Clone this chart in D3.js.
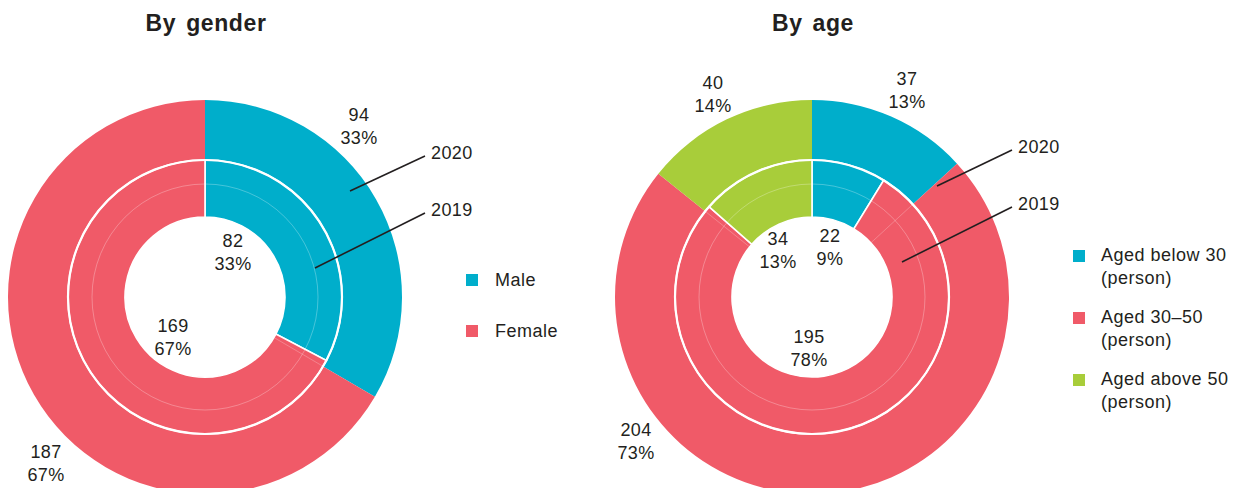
<!DOCTYPE html>
<html>
<head>
<meta charset="utf-8">
<script src="https://cdn.jsdelivr.net/npm/d3@7"></script>
<style>
  body { margin: 0; background: #fff; }
  svg text { font-family: "Liberation Sans", Arial, sans-serif; fill: #231f20; }
</style>
</head>
<body>
<svg width="1245" height="488"></svg>
<script>
// data
var genderCats = ['Male', 'Female'];
var gender2020 = [94, 187];
var gender2019 = [82, 169];

var ageCats = ['Aged below 30', 'Aged 30\u201350', 'Aged above 50'];
var age2020 = [37, 204, 40];
var age2019 = [22, 195, 34];

var colors = ['#00aecb', '#f05a68', '#a8cd3a'];

// label spots for each slice
var genderOuterLabelPos = [[359, 121], [46, 458]];
var genderInnerLabelPos = [[233, 247], [173, 332]];
var ageOuterLabelPos = [[907, 85], [636, 436], [713, 89]];
var ageInnerLabelPos = [[830, 242], [809, 343], [778, 245]];

var svg = d3.select('svg');

var rOuter = 197, rMid = 137, rFaint = 113, rHole = 80;

var pie = d3.pie().sort(null).value(function(d){ return d; });

// percentages that add up to 100 (largest remainder)
function pcts(arr){
    var total = d3.sum(arr);
    var raw = arr.map(function(v){ return v / total * 100; });
    var out = raw.map(Math.floor);
    var left = 100 - d3.sum(out);
    var order = d3.range(arr.length).sort(function(a, b){
        return (raw[b] - out[b]) - (raw[a] - out[a]);
    });
    for (var k = 0; k < left; k++) out[order[k]] += 1;
    return out.map(function(p){ return p + '%'; });
}

function drawDonut(cx, cy, title, outerData, innerData, outerPos, innerPos, calloutPos){
    var g = svg.append('g').attr('transform', 'translate(' + cx + ',' + cy + ')');

    var outerArc = d3.arc().innerRadius(rMid).outerRadius(rOuter);
    var innerArc = d3.arc().innerRadius(rHole).outerRadius(rMid);

    var outerSlices = pie(outerData);
    var innerSlices = pie(innerData);

    g.selectAll('.outer')
        .data(outerSlices)
        .enter()
        .append('path')
        .attr('class', 'outer')
        .attr('d', outerArc)
        .attr('fill', function(d, i){ return colors[i]; });

    g.selectAll('.inner')
        .data(innerSlices)
        .enter()
        .append('path')
        .attr('class', 'inner')
        .attr('d', innerArc)
        .attr('fill', function(d, i){ return colors[i]; })
        .attr('stroke', '#fff')
        .attr('stroke-width', 1.6);

    // faint ghost lines of the outer boundaries through inner ring
    g.selectAll('.ghost')
        .data(outerSlices)
        .enter()
        .append('line')
        .attr('x1', function(d){ return Math.sin(d.startAngle) * rHole; })
        .attr('y1', function(d){ return -Math.cos(d.startAngle) * rHole; })
        .attr('x2', function(d){ return Math.sin(d.startAngle) * rMid; })
        .attr('y2', function(d){ return -Math.cos(d.startAngle) * rMid; })
        .attr('stroke', '#fff')
        .attr('stroke-opacity', function(d){ return d.startAngle === 0 ? 0 : 0.3; })
        .attr('stroke-width', 0.8);

    g.append('circle')
        .attr('r', rFaint)
        .attr('fill', 'none')
        .attr('stroke', '#fff')
        .attr('stroke-opacity', 0.35)
        .attr('stroke-width', 0.8);

    g.append('circle')
        .attr('r', rMid)
        .attr('fill', 'none')
        .attr('stroke', '#fff')
        .attr('stroke-width', 2.2);

    // title
    svg.append('text')
        .attr('x', cx + 1)
        .attr('y', 31)
        .attr('text-anchor', 'middle')
        .attr('font-size', 23)
        .attr('font-weight', 'bold')
        .attr('letter-spacing', 0.6)
        .attr('word-spacing', 3)
        .text(title);

    // value labels
    function labels(data, pos){
        var p = pcts(data);
        data.forEach(function(v, i){
            var t = svg.append('text')
                .attr('text-anchor', 'middle')
                .attr('font-size', 18)
                .attr('letter-spacing', 0.4);
            t.append('tspan').attr('x', pos[i][0]).attr('y', pos[i][1]).text(v);
            t.append('tspan').attr('x', pos[i][0]).attr('y', pos[i][1] + 23).text(p[i]);
        });
    }
    labels(outerData, outerPos);
    labels(innerData, innerPos);

    // callouts for year rings
    calloutPos.forEach(function(c){
        svg.append('line')
            .attr('x1', c.x1).attr('y1', c.y1)
            .attr('x2', c.x2).attr('y2', c.y2)
            .attr('stroke', '#231f20')
            .attr('stroke-width', 1.6);
        svg.append('text')
            .attr('x', c.x2 + 6)
            .attr('y', c.y2 + 3)
            .attr('font-size', 18)
            .attr('letter-spacing', 0.4)
            .text(c.label);
    });
}

drawDonut(205, 297, 'By gender', gender2020, gender2019, genderOuterLabelPos, genderInnerLabelPos, [
    {label: '2020', x1: 350, y1: 191, x2: 425, y2: 156},
    {label: '2019', x1: 315, y1: 268, x2: 425, y2: 213}
]);

drawDonut(812, 297, 'By age', age2020, age2019, ageOuterLabelPos, ageInnerLabelPos, [
    {label: '2020', x1: 937, y1: 186, x2: 1012, y2: 150},
    {label: '2019', x1: 902, y1: 262, x2: 1012, y2: 207}
]);

// legends
var genderLegend = svg.append('g');
genderCats.forEach(function(c, i){
    var y = 274 + i * 51;
    genderLegend.append('rect')
        .attr('x', 466).attr('y', y)
        .attr('width', 12).attr('height', 12)
        .attr('fill', colors[i]);
    genderLegend.append('text')
        .attr('x', 495).attr('y', y + 12)
        .attr('font-size', 18)
        .attr('letter-spacing', 0.5)
        .text(c);
});

var ageLegend = svg.append('g');
ageCats.forEach(function(c, i){
    var y = 250 + i * 62;
    ageLegend.append('rect')
        .attr('x', 1073).attr('y', y)
        .attr('width', 12).attr('height', 12)
        .attr('fill', colors[i]);
    var t = ageLegend.append('text')
        .attr('font-size', 18)
        .attr('letter-spacing', 0.5);
    t.append('tspan').attr('x', 1101).attr('y', y + 11).text(c);
    t.append('tspan').attr('x', 1101).attr('y', y + 34).text('(person)');
});
</script>
</body>
</html>
